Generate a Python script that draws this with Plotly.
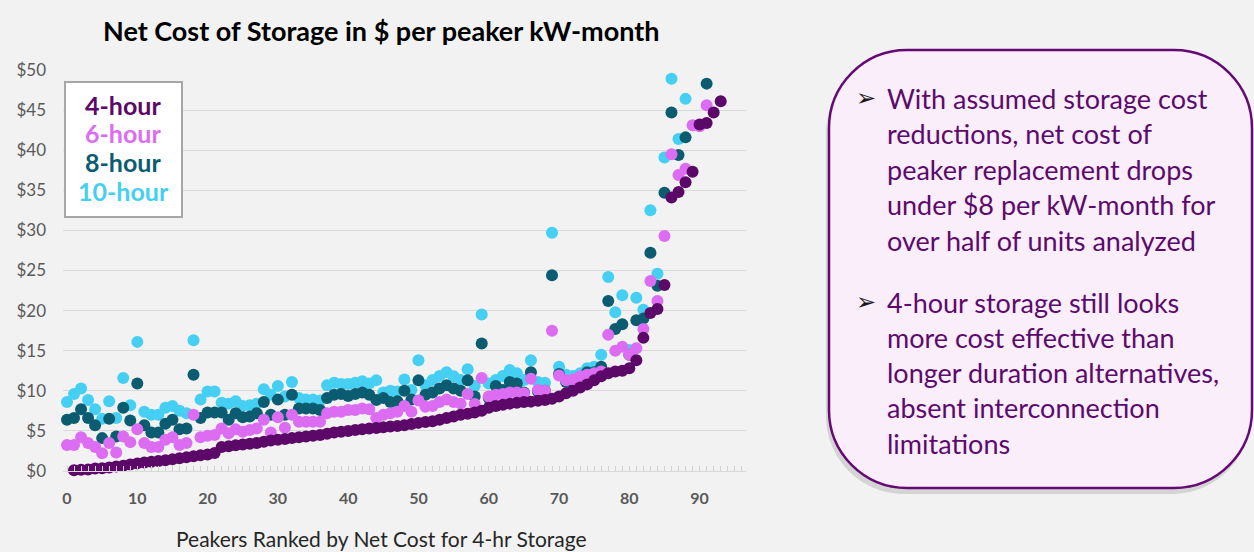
import plotly.graph_objects as go

# rank of each peaker (x axis)
RANK = list(range(0, 94))

# net cost, $ per peaker kW-month (None = no point shown)
FOUR_HR = [None, 0.1, 0.15, 0.2, 0.3, 0.35, 0.45, 0.55, 0.65, 0.8, 0.95,
           1.05, 1.15, 1.25, 1.35, 1.45, 1.6, 1.7, 1.85, 1.95, 2.05,
           2.25, 3.0, 3.1, 3.2, 3.3, 3.4, 3.5, 3.65, 3.8, 3.9,
           4.0, 4.1, 4.2, 4.3, 4.4, 4.5, 4.65, 4.8, 4.9, 5.0,
           5.1, 5.2, 5.3, 5.35, 5.45, 5.55, 5.6, 5.7, 5.85, 6.0,
           6.1, 6.2, 6.4, 6.6, 6.8, 7.0, 7.15, 7.3, 7.5, 7.9,
           8.1, 8.25, 8.4, 8.5, 8.6, 8.65, 8.75, 8.85, 9.0, 9.3,
           9.7, 10.0, 10.4, 10.8, 11.3, 11.8, 12.2, 12.4, 12.5, 12.8,
           13.8, 16.6, 19.7, 20.2, 23.2, 34.1, 34.8, 36.0, 37.3, 43.2,
           43.4, 44.7, 46.1]

SIX_HR = [3.24, 3.24, 4.2, 3.5, 3.0, 2.2, 3.5, 2.3, 4.3, 3.6,
          5.2, 3.5, 3.0, 3.0, 3.9, 4.2, 3.24, 3.5, 7.0, 4.2,
          4.4, 4.5, 5.3, 4.7, 5.2, 4.9, 5.1, 5.3, 6.4, 4.8,
          6.7, 5.4, 7.0, 6.15, 6.15, 6.15, 6.15, 7.2, 7.4, 7.4,
          7.6, 7.6, 7.8, 7.7, 6.6, 7.0, 7.2, 7.4, 8.1, 7.4,
          8.8, 8.0, 8.1, 8.6, 8.9, 8.6, 8.4, 9.6, 8.35, 11.6,
          9.3, 9.5, 9.6, 9.8, 9.8, 9.7, 11.5, 10.1, 10.0, 17.5,
          11.9, 11.3, 11.4, 11.8, 12.0, 12.2, 12.4, 17.0, 15.0, 15.5,
          14.5, 15.3, 17.7, 23.7, 21.2, 29.3, 39.5, 36.9, 37.7, 43.1,
          43.0, 45.6, None, None]

EIGHT_HR = [6.4, 6.6, 7.7, 6.6, 5.7, 4.1, 6.5, 4.3, 7.9, 6.3,
            10.9, 5.7, 4.8, 4.8, 5.9, 6.4, 5.2, 5.3, 12.0, 6.6,
            7.3, 7.3, 7.3, 6.4, 7.2, 6.7, 6.8, 7.2, 8.6, 7.0,
            8.9, 7.0, 9.5, 7.8, 7.8, 7.8, 7.6, 9.1, 9.5, 9.6,
            9.35, 9.6, 9.8, 9.5, 8.85, 9.1, 8.6, 8.7, 10.0, 8.9,
            11.3, 9.5, 9.8, 10.3, 10.7, 10.3, 10.0, 11.3, 9.3, 15.9,
            9.1, 10.6, 10.1, 11.1, 10.9, 9.8, 12.3, 9.9, 10.0, 24.4,
            12.1, 11.1, 11.1, 11.3, 12.3, 12.3, 13.0, 21.2, 17.7, 18.3,
            14.5, 18.8, 19.0, 27.2, 23.1, 34.7, 44.7, 39.4, 41.6, None,
            None, 48.3, None, None]

TEN_HR = [8.6, 9.6, 10.3, 8.85, 7.7, 6.5, 8.7, 6.6, 11.6, 8.2,
          16.1, 7.4, 7.0, 7.0, 7.9, 8.1, 7.5, 7.2, 16.3, 8.9,
          9.9, 9.9, 8.5, 8.4, 8.7, 8.1, 8.2, 8.4, 10.2, 9.5,
          10.6, 9.3, 11.1, 9.1, 8.9, 8.9, 8.8, 10.7, 11.0, 10.85,
          10.85, 11.0, 11.2, 10.9, 11.3, 9.8, 10.0, 9.9, 11.4, 10.1,
          13.8, 10.7, 11.35, 11.85, 12.3, 11.8, 11.35, 12.7, 10.6, 19.5,
          10.9, 11.35, 11.85, 12.6, 12.2, 11.35, 13.8, 11.1, 11.0, 29.7,
          13.0, 12.0, 11.85, 12.2, 12.8, 13.0, 14.5, 24.2, 19.8, 21.9,
          15.1, 21.6, 20.1, 32.5, 24.6, 39.1, 48.9, 41.4, 46.4, None,
          None, None, None, None]

SERIES_NAMES = ["4-hour", "6-hour", "8-hour", "10-hour"]
COLORS = ["#5c0868", "#dc6cf2", "#0b5c70", "#45cff2"]

Y_TICKS = [0, 5, 10, 15, 20, 25, 30, 35, 40, 45, 50]
Y_LABELS = ["&#36;" + str(v) for v in Y_TICKS]
X_TICKS = [0, 10, 20, 30, 40, 50, 60, 70, 80, 90]

TITLE = "Net Cost of Storage in $ per peaker kW-month"
X_TITLE = "Peakers Ranked by Net Cost for 4-hr Storage"
NOTE_1 = ["With assumed storage cost", "reductions, net cost of",
          "peaker replacement drops", "under $8 per kW-month for",
          "over half of units analyzed"]
NOTE_2 = ["4-hour storage still looks", "more cost effective than",
          "longer duration alternatives,", "absent interconnection",
          "limitations"]

W, H = 1254, 552
PL, PR, PT, PB = 63, 746, 70, 471
FONT = "Lato, 'Open Sans', sans-serif"
NOTE_COLOR = "#5c0a6b"


def fx(p):
    return (p - PL) / (PR - PL)


def fy(p):
    return (PB - p) / (PB - PT)


def rounded_path(l, t, r, b, rad):
    k = 0.5523 * rad
    pts = [
        ("M", [(l + rad, t)]),
        ("L", [(r - rad, t)]),
        ("C", [(r - rad + k, t), (r, t + rad - k), (r, t + rad)]),
        ("L", [(r, b - rad)]),
        ("C", [(r, b - rad + k), (r - rad + k, b), (r - rad, b)]),
        ("L", [(l + rad, b)]),
        ("C", [(l + rad - k, b), (l, b - rad + k), (l, b - rad)]),
        ("L", [(l, t + rad)]),
        ("C", [(l, t + rad - k), (l + rad - k, t), (l + rad, t)]),
    ]
    out = ""
    for cmd, coords in pts:
        out += cmd + " ".join(f"{fx(a):.5f},{fy(b_):.5f}" for a, b_ in coords) + " "
    return out + "Z"


def text_at(px, py, text, size, color, family=FONT, anchor="center"):
    fig.add_annotation(x=fx(px), y=fy(py), xref="paper", yref="paper",
                       xanchor=anchor, yanchor="middle", text=text,
                       showarrow=False,
                       font=dict(family=family, size=size, color=color))


fig = go.Figure()

# draw longest duration first so 4-hour sits on top
for name, ys, col in reversed(list(zip(SERIES_NAMES, [FOUR_HR, SIX_HR, EIGHT_HR, TEN_HR], COLORS))):
    fig.add_trace(go.Scatter(
        x=RANK, y=ys, mode="markers", name=name,
        marker=dict(size=12, color=col),
        cliponaxis=False,
        hovertemplate=f"<b>{name}</b><br>Rank %{{x}}: $%{{y:.1f}}<extra></extra>",
    ))

# legend box inside plot
fig.add_shape(type="rect", xref="paper", yref="paper",
              x0=fx(65), x1=fx(182), y0=fy(82), y1=fy(217),
              fillcolor="white", line=dict(color="#a6a6a6", width=2), layer="above")
for name, col, yy in zip(SERIES_NAMES, COLORS, [105, 133, 162, 191]):
    text_at(123, yy, f"<b>{name}</b>", 25, col)

# commentary box with shadow
fig.add_shape(type="path", xref="paper", yref="paper",
              path=rounded_path(826, 55, 1250, 494, 78),
              fillcolor="rgba(0,0,0,0.12)", line=dict(width=0), layer="below")
fig.add_shape(type="path", xref="paper", yref="paper",
              path=rounded_path(829, 50, 1252, 488, 78),
              fillcolor="#faeefb", line=dict(color="#650a75", width=2.5), layer="above")

for lines, y0, step in [(NOTE_1, 98, 35.5), (NOTE_2, 302, 35.3)]:
    text_at(866, y0, "➢", 24, "#1a1a1a", family="DejaVu Sans")
    for i, line in enumerate(lines):
        text_at(885, y0 + i * step, line, 27, NOTE_COLOR, anchor="left")

text_at(381, 30, f"<b>{TITLE}</b>", 27, "#000000")
text_at(381, 538, X_TITLE, 21, "#262626")

fig.update_layout(
    width=W, height=H,
    margin=dict(l=PL, r=W - PR, t=PT, b=H - PB),
    paper_bgcolor="#f2f2f2", plot_bgcolor="#f2f2f2",
    showlegend=False,
    font=dict(family=FONT),
)
fig.update_xaxes(
    range=[-0.57, 96.6], tickvals=X_TICKS, showgrid=False, zeroline=False,
    showline=True, linecolor="#d9d9d9", linewidth=1,
    ticks="inside", ticklen=5, tickcolor="#d0d0d0",
    minor=dict(dtick=1, ticks="inside", ticklen=5, tickcolor="#d0d0d0"),
    tickfont=dict(family=FONT, size=16, color="#595959", weight="bold"),
    ticklabelstandoff=13, fixedrange=True,
)
fig.update_yaxes(
    range=[0, 50], tickvals=Y_TICKS, ticktext=Y_LABELS,
    showgrid=True, gridcolor="#d9d9d9", gridwidth=1, zeroline=False,
    tickfont=dict(family=FONT, size=17, color="#595959"),
    ticklabelstandoff=16, fixedrange=True,
)

fig.write_html("out.html", config={"displayModeBar": False},
               post_script="document.body.style.margin='0px';")
